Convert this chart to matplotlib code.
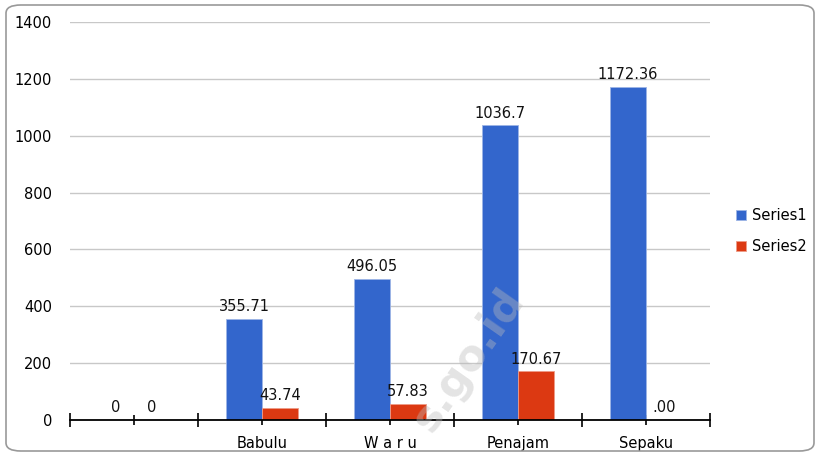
import matplotlib.pyplot as plt
from matplotlib.patches import FancyBboxPatch
import numpy as np

categories = ["", "Babulu", "W a r u", "Penajam", "Sepaku"]
series1 = [0, 355.71, 496.05, 1036.7, 1172.36]
series2 = [0, 43.74, 57.83, 170.67, 0]
labels1 = ["0", "355.71", "496.05", "1036.7", "1172.36"]
labels2 = ["0", "43.74", "57.83", "170.67", ".00"]

blue = "#3366CC"
red = "#DC3912"

fig = plt.figure(figsize=(8.2, 4.55), dpi=100)
ax = fig.add_axes([70/820, 1-420/455, 640/820, 398/455])

# rounded frame around the whole chart
frame = FancyBboxPatch((6/820, 4/455), 808/820, 446/455,
                       boxstyle="round,pad=0,rounding_size=0.018",
                       transform=fig.transFigure, fc="none", ec="#999999", lw=1.2)
fig.patches.append(frame)

x = np.arange(len(categories))
w = 36/128
ax.bar(x - w/2, series1, w, color=blue, edgecolor="#9db5e6", lw=0.6, label="Series1", zorder=3)
ax.bar(x + w/2, series2, w, color=red, edgecolor="#ee9b87", lw=0.6, label="Series2", zorder=3)

for xi, v, t in zip(x, series1, labels1):
    ax.text(xi - w/2, v + 16, t, ha="center", va="bottom", fontsize=10.5, color="#111111", zorder=4)
for xi, v, t in zip(x, series2, labels2):
    ax.text(xi + w/2, v + 16, t, ha="center", va="bottom", fontsize=10.5, color="#111111", zorder=4)

ax.set_xlim(-0.5, len(categories) - 0.5)
ax.set_ylim(0, 1400)
ax.set_yticks(np.arange(0, 1401, 200))
ax.yaxis.grid(True, color="#c8c8c8", lw=1, zorder=0)
ax.tick_params(axis="y", length=0, pad=13, labelsize=10.5)

# boundary ticks (major) and center ticks (minor)
ax.set_xticks(np.arange(-0.5, len(categories)), [""] * (len(categories) + 1))
ax.set_xticks(x, minor=True)
ax.set_xticklabels(categories, minor=True, fontsize=10.5)
ax.tick_params(axis="x", which="major", direction="inout", length=10, width=1.2)
ax.tick_params(axis="x", which="minor", direction="inout", length=7, width=1.2, pad=8)

for s in ["top", "right", "left"]:
    ax.spines[s].set_visible(False)
ax.spines["bottom"].set_linewidth(1.3)
ax.spines["bottom"].set_zorder(5)

ax.legend(loc="center left", bbox_to_anchor=(1.025, 0.475), frameon=False,
          handlelength=0.7, handleheight=0.7, handletextpad=0.35,
          borderpad=0.2, fontsize=10.5, labelspacing=1.1)

# faint watermark
fig.text(0.572, 0.21, "s.go.id", rotation=55, fontsize=31, fontweight="bold",
         color="#bbbbbb", alpha=0.4, ha="center", va="center", zorder=10)

fig.savefig("out.png", dpi=100)
